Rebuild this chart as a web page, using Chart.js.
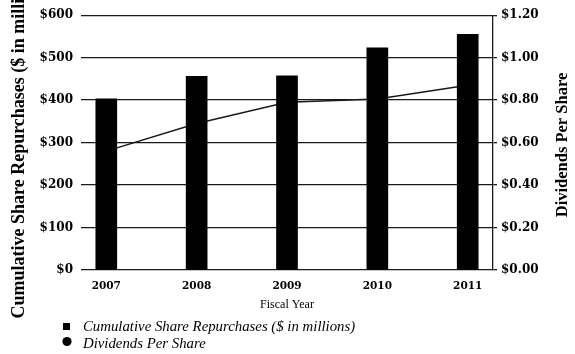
<!DOCTYPE html>
<html>
<head>
<meta charset="utf-8">
<script src="https://cdn.jsdelivr.net/npm/chart.js@4/dist/chart.umd.min.js"></script>
<style>
  html, body { margin: 0; padding: 0; background: #fff; }
  #wrap { width: 575px; height: 354px; }
</style>
</head>
<body>
<div id="wrap"><canvas id="chart" width="575" height="354"></canvas></div>
<script>
const years = [2007, 2008, 2009, 2010, 2011];
const repurchases = [403, 456, 457, 523, 555];
const dividends = [0.56, 0.69, 0.79, 0.805, 0.87];
const repurchaseLabel = 'Cumulative Share Repurchases ($ in millions)';
const dividendLabel = 'Dividends Per Share';
const xTitle = 'Fiscal Year';

const ink = '#1a1a1a';
const tickFont = { family: 'DejaVu Serif', size: 12, weight: 'bold' };

// legend and right axis title are drawn by hand (rotation and layout differ from Chart.js defaults)
const extras = {
  id: 'extras',
  afterDraw(chart) {
    const ctx = chart.ctx;
    ctx.save();
    ctx.fillStyle = '#000';

    // right title, reading bottom to top
    ctx.font = 'bold 16.5px "Liberation Serif"';
    ctx.textAlign = 'center';
    ctx.textBaseline = 'middle';
    ctx.translate(563, 145);
    ctx.rotate(-Math.PI / 2);
    ctx.fillText(chart.options.plugins.extras.rightTitle, 0, 0);
    ctx.setTransform(1, 0, 0, 1, 0, 0);

    // legend
    const ds = chart.data.datasets;
    ctx.font = 'italic 14.8px "Liberation Serif"';
    ctx.textAlign = 'left';
    ctx.textBaseline = 'alphabetic';
    ctx.fillRect(63, 323, 7, 7);
    ctx.fillText(ds[0].label, 83, 331);
    ctx.beginPath();
    ctx.arc(67, 341.5, 4.6, 0, Math.PI * 2);
    ctx.fill();
    ctx.fillText(ds[1].label, 83, 348);
    ctx.restore();
  }
};

new Chart(document.getElementById('chart'), {
  data: {
    datasets: [
      {
        type: 'bar',
        label: repurchaseLabel,
        data: years.map((y, i) => ({ x: y, y: repurchases[i] })),
        backgroundColor: '#000',
        barThickness: 21,
        yAxisID: 'y',
        order: 0
      },
      {
        type: 'line',
        label: dividendLabel,
        data: years.map((y, i) => ({ x: y, y: dividends[i] })),
        borderColor: ink,
        borderWidth: 1.5,
        pointRadius: 0,
        tension: 0,
        yAxisID: 'y1',
        order: 1
      }
    ]
  },
  options: {
    responsive: false,
    animation: false,
    devicePixelRatio: 1,
    layout: { padding: { top: 15, bottom: 39, left: 0, right: 0 } },
    plugins: {
      legend: { display: false },
      tooltip: { enabled: false },
      extras: { rightTitle: dividendLabel }
    },
    scales: {
      x: {
        type: 'linear',
        position: 'bottom',
        offset: false,
        min: 2006.72,
        max: 2011.28,
        afterBuildTicks: (scale) => { scale.ticks = years.map(v => ({ value: v })); },
        afterFit: (scale) => { scale.height = 45; },
        grid: { display: false, drawTicks: false, offset: false },
        border: { display: false },
        ticks: {
          color: '#000',
          padding: 10,
          font: { family: 'DejaVu Serif', size: 10.5, weight: 'bold' },
          callback: (v) => String(v)
        },
        title: {
          display: true,
          text: xTitle,
          color: '#000',
          font: { family: 'Liberation Serif', size: 12 },
          padding: { top: 0, bottom: 3 }
        }
      },
      y: {
        position: 'left',
        min: 0,
        max: 600,
        afterFit: (scale) => { scale.width = 81; },
        grid: { color: ink, lineWidth: 1.3, drawTicks: false },
        border: { display: false },
        ticks: {
          stepSize: 100,
          color: '#000',
          padding: 8,
          font: tickFont,
          callback: (v) => '$' + v
        },
        title: {
          display: true,
          text: repurchaseLabel,
          color: '#000',
          font: { family: 'Liberation Serif', size: 18, weight: 'bold' },
          padding: { top: 9, bottom: 0 }
        }
      },
      y1: {
        position: 'right',
        min: 0,
        max: 1.2,
        afterFit: (scale) => { scale.width = 82; },
        grid: { drawOnChartArea: false, color: ink, lineWidth: 1.3, tickLength: 4 },
        border: { display: true, color: ink, width: 1.3 },
        ticks: {
          stepSize: 0.2,
          color: '#000',
          padding: 4,
          font: tickFont,
          callback: (v) => '$' + v.toFixed(2)
        }
      }
    }
  },
  plugins: [extras]
});
</script>
</body>
</html>
